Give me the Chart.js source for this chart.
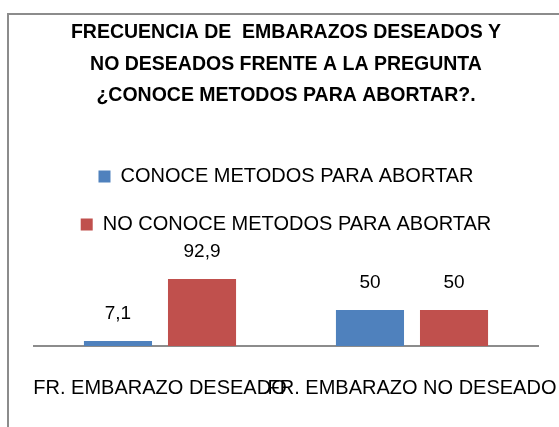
<!DOCTYPE html>
<html>
<head>
<meta charset="utf-8">
<script src="https://cdn.jsdelivr.net/npm/chart.js@4/dist/chart.umd.min.js"></script>
<style>
  html, body { margin: 0; background: #fff; overflow: hidden; }
  #frame { position: absolute; left: 7px; top: 13px; width: 600px; height: 460px; border: 2px solid #8c8c8c; }
  #wrap { position: absolute; left: 0; top: 0; width: 559px; height: 427px; }
</style>
</head>
<body>
<div id="frame"></div>
<div id="wrap"><canvas id="myChart" width="559" height="427"></canvas></div>
<script>
// categorias y series
var categorias = ['FR. EMBARAZO DESEADO', 'FR. EMBARAZO NO DESEADO'];
var conoce = [7.1, 50];
var noConoce = [92.9, 50];
var titulo = ['FRECUENCIA DE  EMBARAZOS DESEADOS Y', 'NO DESEADOS FRENTE A LA PREGUNTA', '¿CONOCE METODOS PARA ABORTAR?.'];

var fuente = "'Liberation Sans', Arial, sans-serif";

// etiquetas de valor encima de cada barra, con coma decimal
var etiquetas = {
  id: 'etiquetas',
  afterDatasetsDraw: function (chart) {
    var ctx = chart.ctx;
    ctx.save();
    ctx.font = '19px ' + fuente;
    ctx.fillStyle = '#000';
    ctx.textAlign = 'center';
    ctx.textBaseline = 'middle';
    chart.data.datasets.forEach(function (ds, i) {
      chart.getDatasetMeta(i).data.forEach(function (bar, j) {
        var txt = String(ds.data[j]).replace('.', ',');
        ctx.fillText(txt, bar.x, bar.y - 27);
      });
    });
    ctx.restore();
  }
};

var data = {
  labels: categorias,
  datasets: [{
    label: 'CONOCE METODOS PARA ABORTAR',
    backgroundColor: '#4F81BD',
    data: conoce
  }, {
    label: 'NO CONOCE METODOS PARA ABORTAR',
    backgroundColor: '#C0504D',
    data: noConoce
  }]
};

const config = {
  type: 'bar',
  data: data,
  plugins: [etiquetas],
  options: {
    responsive: false,
    animation: false,
    categoryPercentage: 0.667,
    barPercentage: 0.81,
    layout: { padding: { left: 34, right: 21, top: 7, bottom: 5 } },
    plugins: {
      title: {
        display: true,
        text: titulo,
        color: '#000',
        font: { family: fuente, size: 19.5, weight: 'bold', lineHeight: 1.615 },
        padding: { top: 10, bottom: 27 }
      },
      legend: {
        display: true,
        align: 'center',
        labels: {
          color: '#000',
          boxWidth: 12,
          boxHeight: 12,
          padding: 28,
          font: { family: fuente, size: 20 }
        }
      },
      tooltip: { enabled: false }
    },
    scales: {
      x: {
        grid: { display: false },
        border: { display: true, color: '#8c8c8c', width: 2 },
        ticks: {
          color: '#000',
          autoSkip: false,
          maxRotation: 0,
          padding: 22,
          font: { family: fuente, size: 20 }
        },
        // las etiquetas se solapan como en el original, sin reservar margen extra
        afterFit: function (scale) {
          scale.paddingLeft = 0;
          scale.paddingRight = 0;
        }
      },
      y: {
        display: false,
        min: 0,
        max: 141
      }
    }
  }
};

var myChart = new Chart(document.getElementById('myChart'), config);
</script>
</body>
</html>
